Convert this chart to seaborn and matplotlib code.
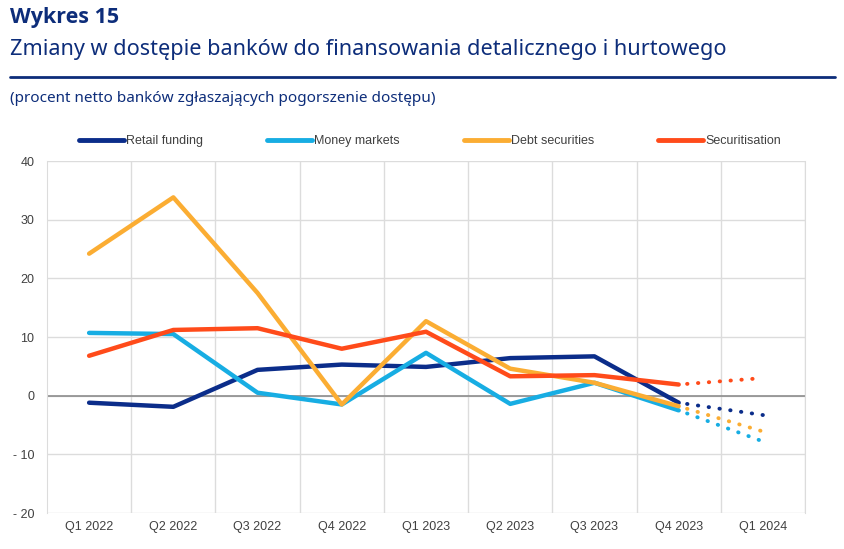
import pandas as pd
import matplotlib.pyplot as plt
import seaborn as sns
import numpy as np

# dane
quarters = ['Q1 2022', 'Q2 2022', 'Q3 2022', 'Q4 2022', 'Q1 2023',
            'Q2 2023', 'Q3 2023', 'Q4 2023', 'Q1 2024']
retail_funding = [-1.2, -1.9, 4.4, 5.3, 4.9, 6.4, 6.7, -1.2]
money_markets = [10.7, 10.5, 0.5, -1.5, 7.3, -1.4, 2.2, -2.5]
debt_securities = [24.2, 33.8, 17.5, -1.5, 12.7, 4.6, 2.2, -1.8]
securitisation = [6.8, 11.2, 11.5, 8.0, 10.9, 3.3, 3.5, 1.9]
# oczekiwania na Q1 2024
expected = {'Retail funding': -3.3, 'Money markets': -7.8,
            'Debt securities': -6.1, 'Securitisation': 3.0}

series = {'Retail funding': retail_funding, 'Money markets': money_markets,
          'Debt securities': debt_securities, 'Securitisation': securitisation}
colors = {'Retail funding': '#0B2D8A', 'Money markets': '#17ADE3',
          'Debt securities': '#FBAD33', 'Securitisation': '#FF4B1A'}

rows = []
for name, vals in series.items():
    for i, v in enumerate(vals):
        rows.append({'Series': name, 'x': i, 'value': v})
df = pd.DataFrame(rows)

rows_f = []
for name, vals in series.items():
    rows_f.append({'Series': name, 'x': len(vals) - 1, 'value': vals[-1]})
    rows_f.append({'Series': name, 'x': len(vals), 'value': expected[name]})
df_f = pd.DataFrame(rows_f)

sns.set_style('white')
plt.rcParams['font.family'] = ['Liberation Sans', 'DejaVu Sans']
plt.rcParams['axes.unicode_minus'] = False

fig = plt.figure(figsize=(8.44, 5.49), dpi=100)
ax = fig.add_axes([47 / 844, 1 - 513 / 549, (805 - 47) / 844, (513 - 161) / 549])

# linie siatki
ax.set_axisbelow(True)
ax.set_xlim(-0.5, len(quarters) - 0.5)
ax.set_ylim(-20, 40)
ax.set_yticks(np.arange(-20, 41, 10))
ax.set_xticks(np.arange(len(quarters)))
ax.set_xticks(np.arange(len(quarters)) + 0.5, minor=True)
ax.grid(which='major', axis='y', color='#dcdcdc', lw=1)
ax.grid(which='minor', axis='x', color='#dcdcdc', lw=1)
ax.axhline(0, color='#8c8c8c', lw=1.2, zorder=1)

sns.lineplot(data=df, x='x', y='value', hue='Series', palette=colors,
             lw=3.2, ax=ax, legend=False, zorder=3)
# linie kropkowane - oczekiwania
for name in series:
    d = df_f[df_f['Series'] == name]
    x0, x1 = d['x'].values
    y0, y1 = d['value'].values
    ax.plot([x0 + 0.1, x1], [y0 + (y1 - y0) * 0.1, y1],
            color=colors[name], lw=2.8, ls=(0, (0.1, 2.7)), dash_capstyle='round', zorder=3)

ax.set_xticklabels(quarters)
ax.set_xlabel('')
ax.set_ylabel('')
ax.set_yticklabels(['- 20', '- 10', '0', '10', '20', '30', '40'])
ax.tick_params(axis='both', length=0, labelsize=9, colors='#404040', pad=6)
ax.tick_params(axis='y', pad=9)
for s in ['top', 'bottom']:
    ax.spines[s].set_visible(False)
for s in ['left', 'right']:
    ax.spines[s].set_color('#dcdcdc')

# legenda
handles = [plt.Line2D([], [], color=colors[n], lw=3.5) for n in series]
fig.legend(handles, list(series), loc='center', bbox_to_anchor=(430 / 844, 1 - 141 / 549),
           ncol=4, frameon=False, fontsize=9, handlelength=3.6, handletextpad=0.2,
           columnspacing=5.1, labelcolor='#404040')

# tytuły
navy = '#0d2d7a'
fig.text(10 / 844, 1 - 17 / 549, 'Wykres 15', fontsize=15.5, fontweight='bold',
         color=navy, family=['Open Sans', 'DejaVu Sans'], va='center')
fig.text(10 / 844, 1 - 50 / 549, 'Zmiany w dostępie banków do finansowania detalicznego i hurtowego',
         fontsize=15.6, color=navy, family=['Noto Sans', 'DejaVu Sans'], va='center')
fig.add_artist(plt.Line2D([10 / 844, 835 / 844], [1 - 77 / 549, 1 - 77 / 549],
                          color=navy, lw=2))
fig.text(10 / 844, 1 - 99 / 549, '(procent netto banków zgłaszających pogorszenie dostępu)',
         fontsize=11, color=navy, family=['Noto Sans', 'DejaVu Sans'], va='center')

plt.savefig('out.png', dpi=100)
